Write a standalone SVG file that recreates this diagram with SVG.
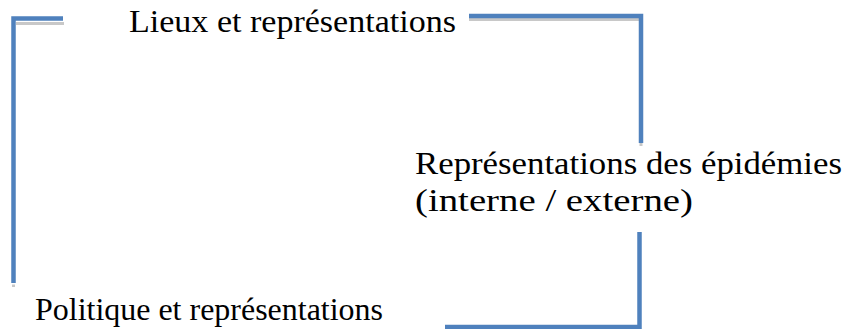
<svg xmlns="http://www.w3.org/2000/svg" width="847" height="329" viewBox="0 0 847 329">
<style>
.lbl{font-family:"Liberation Serif",serif;font-size:31px;fill:#000}
.ln{stroke:#4F81BD;stroke-width:4.5;fill:none;stroke-linecap:butt}
.sh{stroke:#C8C8C8;stroke-width:3;fill:none}
</style>
<rect width="847" height="329" fill="#fff"/>
<g id="connectors">
<line class="sh" x1="16" y1="23.5" x2="64" y2="23.5"/>
<line class="sh" x1="13.5" y1="284.5" x2="13.5" y2="287"/>
<path class="ln" d="M63 18.5 H13.5 V283"/>
<line class="sh" x1="469" y1="19.5" x2="639" y2="19.5"/>
<line class="sh" x1="641" y1="143" x2="641" y2="146"/>
<path class="ln" d="M469 16 H641 V143"/>
<path class="ln" d="M639.5 232 V327 H445"/>
</g>
<g id="lieux"><text class="lbl" x="129" y="32" textLength="327" lengthAdjust="spacingAndGlyphs">Lieux et représentations</text></g>
<g id="epidemies"><text class="lbl" x="415" y="174" textLength="427" lengthAdjust="spacingAndGlyphs">Représentations des épidémies</text><text class="lbl" x="415" y="211" textLength="278" lengthAdjust="spacingAndGlyphs">(interne / externe)</text></g>
<g id="politique"><text class="lbl" x="35" y="320" textLength="348" lengthAdjust="spacingAndGlyphs">Politique et représentations</text></g>
</svg>
